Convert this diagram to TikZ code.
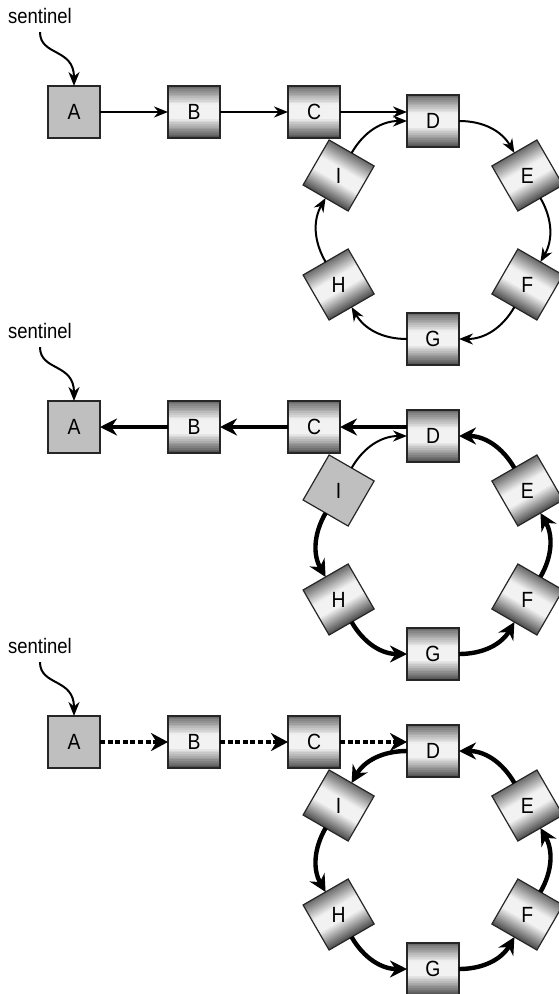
\documentclass[tikz,border=0pt]{standalone}
\usepackage{fontspec}
\setmainfont{Liberation Sans}[FakeStretch=0.88]
\usepackage{tikz}
\usetikzlibrary{arrows.meta, calc}
\pgfdeclarelayer{back}
\pgfsetlayers{back,main}

\tikzset{
  box/.style={draw=black!85, line width=0.6pt, minimum size=26pt, inner sep=0pt, outer sep=0pt, font=\fontsize{11}{13}\selectfont},
  cell/.style={box, rotate=#1},
  cell/.default=0,
  head/.style={box, rotate=#1, fill=black!25},
  head/.default=0,
  letter/.style={inner sep=0pt, font=\fontsize{11}{13}\selectfont},
  tag/.style={inner sep=1pt, font=\fontsize{10.5}{12}\selectfont},
  thinptr/.style={line width=1pt, -{Stealth[length=7pt,width=5.5pt]}},
  thickptr/.style={line width=2.2pt, -{Stealth[length=8.5pt,width=8.5pt]}},
  dotptr/.style={line width=2pt, dash pattern=on 2.5pt off 1.3pt, -{Stealth[length=8.5pt,width=9pt]}}
}

\begin{document}
\begin{tikzpicture}[x=0.5pt, y=0.5pt]
\useasboundingbox (0,0) rectangle (558,-994);
% First list: the ring as built
\node[tag] (snt1) at (40,-16) {sentinel};
\node[head] (A1) at (74,-112) {A};
\node[cell] (B1) at (194,-112) {B};
\node[cell] (C1) at (314,-112) {C};
\coordinate (O1) at (433,-230);
\node[cell] (D1) at ([shift={(90:109)}]O1) {D};
\node[cell=30] (E1) at ([shift={(30:109)}]O1) {};
\node[cell=-30] (F1) at ([shift={(-30:109)}]O1) {};
\node[cell] (G1) at ([shift={(-90:109)}]O1) {G};
\node[cell=30] (H1) at ([shift={(-150:109)}]O1) {};
\node[cell=-30] (I1) at ([shift={(150:109)}]O1) {};
\node[letter] (E1t) at (E1) {E};
\node[letter] (F1t) at (F1) {F};
\node[letter] (H1t) at (H1) {H};
\node[letter] (I1t) at (I1) {I};
\draw[thinptr, shorten <=3pt] (snt1.south) .. controls +(0,-30) and +(0,38) .. (A1.north);
\draw[thinptr] (A1) -- (B1);
\draw[thinptr] (B1) -- (C1);
\draw[thinptr] (C1.east) -- (C1.east -| D1.west);
\draw[thinptr] (D1) to[bend left=30] (E1);
\draw[thinptr] (E1) to[bend left=30] (F1);
\draw[thinptr] (F1) to[bend left=30] (G1);
\draw[thinptr] (G1) to[bend left=30] (H1);
\draw[thinptr] (H1) to[bend left=30] (I1);
\draw[thinptr] (I1) to[bend left=30] (D1);
% Second list: links turned back
\begin{scope}[yshift=-157.5pt]
\node[tag] (snt2) at (40,-16) {sentinel};
\node[head] (A2) at (74,-112) {A};
\node[cell] (B2) at (194,-112) {B};
\node[cell] (C2) at (314,-112) {C};
\coordinate (O2) at (433,-230);
\node[cell] (D2) at ([shift={(90:109)}]O2) {D};
\node[cell=30] (E2) at ([shift={(30:109)}]O2) {};
\node[cell=-30] (F2) at ([shift={(-30:109)}]O2) {};
\node[cell] (G2) at ([shift={(-90:109)}]O2) {G};
\node[cell=30] (H2) at ([shift={(-150:109)}]O2) {};
\node[head=-30] (I2) at ([shift={(150:109)}]O2) {};
\node[letter] (E2t) at (E2) {E};
\node[letter] (F2t) at (F2) {F};
\node[letter] (H2t) at (H2) {H};
\node[letter] (I2t) at (I2) {I};
\draw[thinptr, shorten <=3pt] (snt2.south) .. controls +(0,-30) and +(0,38) .. (A2.north);
\draw[thickptr] (B2) -- (A2);
\draw[thickptr] (C2) -- (B2);
\draw[thickptr] (C2.east -| D2.west) -- (C2.east);
\draw[thickptr] (E2) to[bend right=30] (D2);
\draw[thickptr] (F2) to[bend right=30] (E2);
\draw[thickptr] (G2) to[bend right=30] (F2);
\draw[thickptr] (H2) to[bend right=30] (G2);
\draw[thickptr] (I2) to[bend right=30] (H2);
\draw[thinptr] (I2) to[bend left=30] (D2);
\end{scope}
% Third list: links after the walk
\begin{scope}[yshift=-315pt]
\node[tag] (snt3) at (40,-16) {sentinel};
\node[head] (A3) at (74,-112) {A};
\node[cell] (B3) at (194,-112) {B};
\node[cell] (C3) at (314,-112) {C};
\coordinate (O3) at (433,-230);
\node[cell] (D3) at ([shift={(90:109)}]O3) {D};
\node[cell=30] (E3) at ([shift={(30:109)}]O3) {};
\node[cell=-30] (F3) at ([shift={(-30:109)}]O3) {};
\node[cell] (G3) at ([shift={(-90:109)}]O3) {G};
\node[cell=30] (H3) at ([shift={(-150:109)}]O3) {};
\node[cell=-30] (I3) at ([shift={(150:109)}]O3) {};
\node[letter] (E3t) at (E3) {E};
\node[letter] (F3t) at (F3) {F};
\node[letter] (H3t) at (H3) {H};
\node[letter] (I3t) at (I3) {I};
\draw[thinptr, shorten <=3pt] (snt3.south) .. controls +(0,-30) and +(0,38) .. (A3.north);
\draw[dotptr] (A3) -- (B3);
\draw[dotptr] (B3) -- (C3);
\draw[dotptr] (C3.east) -- (C3.east -| D3.west);
\draw[thickptr] (D3) to[bend right=30] (I3);
\draw[thickptr] (I3) to[bend right=30] (H3);
\draw[thickptr] (H3) to[bend right=30] (G3);
\draw[thickptr] (G3) to[bend right=30] (F3);
\draw[thickptr] (F3) to[bend right=30] (E3);
\draw[thickptr] (E3) to[bend right=30] (D3);
\end{scope}
% Metal shading of the cells, in strips across each box
\begin{pgfonlayer}{back}
\foreach \n in {B1,C1,D1,E1,F1,G1,H1,I1,B2,C2,D2,E2,F2,G2,H2,B3,C3,D3,E3,F3,G3,H3,I3}
  \foreach \k in {0,...,29} {
    \pgfmathsetmacro\ta{\k/30}
    \pgfmathsetmacro\tb{min(1,(\k+1.4)/30)}
    \pgfmathsetmacro\tm{(\k+0.5)/30}
    \pgfmathsetmacro\g{\tm<0.36 ? 5+55*(0.36-\tm)/0.36 : (\tm>0.62 ? 5+65*(\tm-0.62)/0.38 : 5)}
    \fill[black!\g] ($(\n.north west)!\ta!(\n.south west)$) -- ($(\n.north east)!\ta!(\n.south east)$)
      -- ($(\n.north east)!\tb!(\n.south east)$) -- ($(\n.north west)!\tb!(\n.south west)$) -- cycle;
  }
\end{pgfonlayer}
\end{tikzpicture}
\end{document}
